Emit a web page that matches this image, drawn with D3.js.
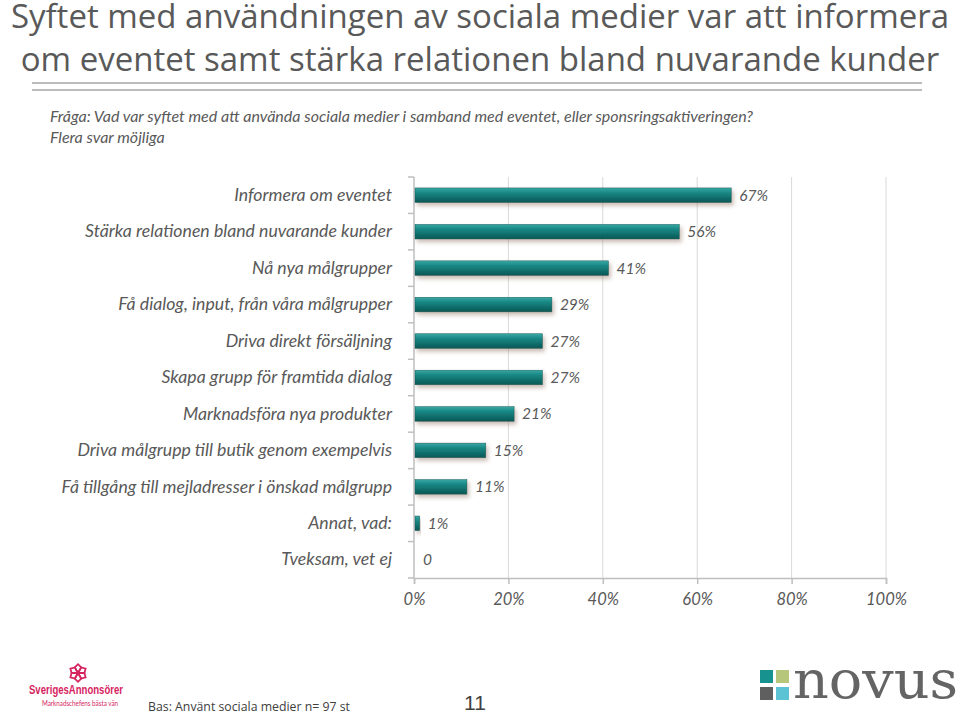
<!DOCTYPE html>
<html><head><meta charset="utf-8">
<script src="https://cdn.jsdelivr.net/npm/d3@7"></script>
<style>
body{margin:0;background:#fff;}
svg text{font-family:Lato,"Open Sans",sans-serif;}
</style></head>
<body><svg id="c" width="960" height="714"></svg>
<script>
const titleLines = ["Syftet med användningen av sociala medier var att informera","om eventet samt stärka relationen bland nuvarande kunder"];
const question = "Fråga: Vad var syftet med att använda sociala medier i samband med eventet, eller sponsringsaktiveringen?";
const note = "Flera svar möjliga";
const categories = ["Informera om eventet","Stärka relationen bland nuvarande kunder","Nå nya målgrupper","Få dialog, input, från våra målgrupper","Driva direkt försäljning","Skapa grupp för framtida dialog","Marknadsföra nya produkter","Driva målgrupp till butik genom exempelvis","Få tillgång till mejladresser i önskad målgrupp","Annat, vad:","Tveksam, vet ej"];
const values = [67,56,41,29,27,27,21,15,11,1,0];
const valueLabels = ["67%","56%","41%","29%","27%","27%","21%","15%","11%","1%","0"];
const xTicks = [0,20,40,60,80,100];
const base = "Bas: Använt sociala medier n= 97 st";
const pageNo = "11";

const svg = d3.select("#c");
const grey = "#595959";

// title
svg.append("g").selectAll("text").data(titleLines).join("text")
  .attr("x", 480).attr("y", (d,i)=>28+i*43).attr("text-anchor","middle")
  .attr("font-size", 33).attr("fill", grey).style("font-family","'Open Sans',sans-serif")
  .text(d=>d);
svg.append("line").attr("x1",32).attr("x2",922).attr("y1",83).attr("y2",83).attr("stroke","#a6a6a6").attr("stroke-width",1.5);
svg.append("line").attr("x1",32).attr("x2",922).attr("y1",90).attr("y2",90).attr("stroke","#a6a6a6").attr("stroke-width",1.5);

svg.append("text").attr("x",50).attr("y",122).attr("font-size",16).attr("font-style","italic").attr("fill",grey).text(question);
svg.append("text").attr("x",50).attr("y",143).attr("font-size",16).attr("font-style","italic").attr("fill",grey).text(note);

// chart
const x = d3.scaleLinear().domain([0,100]).range([414,886]);
const y = d3.scaleBand().domain(categories).range([177,578]).paddingInner(0.6).paddingOuter(0.3);

const defs = svg.append("defs");
const gr = defs.append("linearGradient").attr("id","bg").attr("x1",0).attr("x2",0).attr("y1",0).attr("y2",1);
gr.append("stop").attr("offset","0%").attr("stop-color","#3aa7a4");
gr.append("stop").attr("offset","35%").attr("stop-color","#168683");
gr.append("stop").attr("offset","100%").attr("stop-color","#0b5754");
const f = defs.append("filter").attr("id","sh").attr("x","-10%").attr("y","-50%").attr("width","130%").attr("height","250%");
f.append("feDropShadow").attr("dx",2).attr("dy",3).attr("stdDeviation",2).attr("flood-color","#8a6b5c").attr("flood-opacity",0.45);

// gridlines
svg.append("g").selectAll("line").data(xTicks.slice(1)).join("line")
  .attr("x1",d=>x(d)).attr("x2",d=>x(d)).attr("y1",177).attr("y2",578)
  .attr("stroke","#d9d9d9").attr("stroke-width",1);

// x axis
const xAxis = svg.append("g").attr("transform","translate(0,578)")
  .call(d3.axisBottom(x).tickValues(xTicks).tickFormat(d=>d+"%").tickSize(6).tickPadding(9));
xAxis.select(".domain").attr("stroke","#bfbfbf").attr("stroke-width",1.5);
xAxis.selectAll(".tick line").attr("stroke","#bfbfbf").attr("stroke-width",1.5);
xAxis.selectAll("text").attr("font-size",16.5).attr("font-style","italic").attr("fill",grey).style("font-family","Lato,sans-serif");

// y axis
const yAxis = svg.append("g").attr("transform","translate(414,0)")
  .call(d3.axisLeft(y).tickSize(0).tickPadding(22));
yAxis.select(".domain").remove();
yAxis.selectAll("text").attr("font-size",17.7).attr("font-style","italic").attr("fill",grey).style("font-family","Lato,sans-serif");
// category boundary ticks
const bounds = d3.range(categories.length+1).map(i=>177 + i*(578-177)/categories.length);
svg.append("g").selectAll("line").data(bounds).join("line")
  .attr("x1",408).attr("x2",414).attr("y1",d=>d).attr("y2",d=>d)
  .attr("stroke","#bfbfbf").attr("stroke-width",1.5);
svg.append("line").attr("x1",414).attr("x2",414).attr("y1",177).attr("y2",578).attr("stroke","#bfbfbf").attr("stroke-width",1.5);

// bars
svg.append("g").selectAll("rect").data(values).join("rect")
  .attr("x",x(0)+1).attr("y",(d,i)=>y(categories[i]))
  .attr("width",d=>Math.max(0,x(d)-x(0)))
  .attr("height",y.bandwidth())
  .attr("fill","url(#bg)").attr("stroke","#0d5e5b").attr("stroke-width",0.5)
  .attr("filter","url(#sh)")
  .style("display",d=>d>0?null:"none");

svg.append("g").selectAll("text").data(values).join("text")
  .attr("x",d=>x(d)+9).attr("y",(d,i)=>y(categories[i])+y.bandwidth()/2+5.5)
  .attr("font-size",15.5).attr("font-style","italic").attr("fill",grey)
  .text((d,i)=>valueLabels[i]);

// footer
svg.append("text").attr("x",148).attr("y",711).attr("font-size",12.3).attr("fill","#404040").style("font-family","'Open Sans',sans-serif").text(base);
svg.append("text").attr("x",475).attr("y",710).attr("text-anchor","middle").attr("font-size",21).attr("fill","#404040").style("font-family","'Liberation Sans',sans-serif").text(pageNo);

// SverigesAnnonsörer logo
const lg = svg.append("g").attr("transform","translate(78,673) scale(0.8)");
d3.range(6).forEach(i=>{
  lg.append("path").attr("d","M0,0 L-4,-7 L0,-11 L4,-7 Z").attr("fill","none").attr("stroke","#d6245f").attr("stroke-width",2.2)
    .attr("transform",`rotate(${i*60})`);
});
svg.append("text").attr("x",29).attr("y",694).attr("font-size",13).attr("font-weight","bold").attr("fill","#d6245f").style("font-family","'Liberation Sans',sans-serif").attr("textLength",94).attr("lengthAdjust","spacingAndGlyphs").text("SverigesAnnonsörer");
svg.append("text").attr("x",42).attr("y",706).attr("font-size",7).attr("fill","#d6245f").attr("textLength",76).attr("lengthAdjust","spacingAndGlyphs").text("Marknadschefens bästa vän");

// Novus logo
const nv = svg.append("g");
[[760,670,"#17928f"],[776,670,"#b6c77c"],[760,687,"#5f5f5f"],[776,687,"#5bc3d3"]].forEach(s=>{
  nv.append("rect").attr("x",s[0]).attr("y",s[1]).attr("width",13).attr("height",13).attr("fill",s[2]);
});
nv.append("text").attr("x",793).attr("y",698).attr("font-size",52).attr("fill","#646464")
  .style("font-family","'DejaVu Serif',serif").attr("textLength",165).attr("lengthAdjust","spacingAndGlyphs").text("novus");
</script></body></html>
